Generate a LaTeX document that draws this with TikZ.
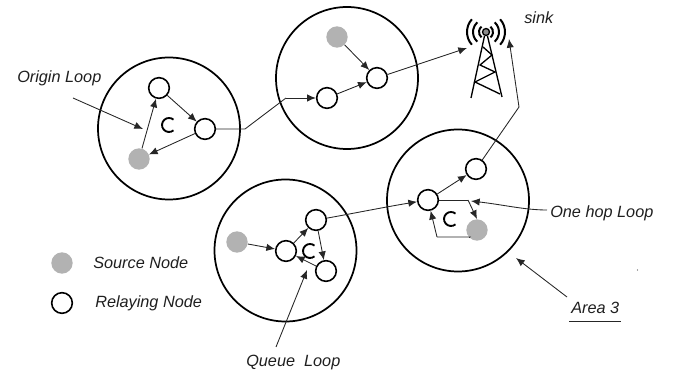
\documentclass[tikz,border=0pt]{standalone}
\usepackage{fontspec}
\setmainfont{Liberation Sans}
\usetikzlibrary{arrows.meta}
\tikzset{
 area/.style={circle,draw=black,line width=1.3pt,minimum size=106.5pt,inner sep=0pt},
 relay/.style={circle,draw=black,fill=white,line width=1.2pt,minimum size=15.5pt,inner sep=0pt},
 source/.style={circle,fill=black!30,minimum size=16pt,inner sep=0pt},
 link/.style={draw=black!85,line width=0.65pt,-{Latex[length=6.5pt,width=5.5pt]}},
 plain/.style={draw=black!85,line width=0.65pt},
 lbl/.style={font=\itshape\fontsize{12.2pt}{14pt}\selectfont,text=black!88,inner sep=0pt},
 loopc/.style={line width=1.4pt,draw=black},
 tw/.style={line width=1pt,draw=black},
 wave/.style={line width=1.5pt,draw=black}
}
\begin{document}
\begin{tikzpicture}[x=0.75pt,y=-0.75pt]
\useasboundingbox (0,0) rectangle (676,374);
% areas
\node[area] (A1) at (169,128.5) {};
\node[area] (A2) at (347,78) {};
\node[area] (A3) at (285.5,250.5) {};
\node[area] (A4) at (458,200.5) {};
% nodes
\node[relay] (a) at (159,88) {};
\node[relay] (b) at (205,129) {};
\node[source] (c) at (139,159) {};
\node[relay] (d) at (327,98) {};
\node[relay] (e) at (377,78) {};
\node[source] (f) at (337,37) {};
\node[source] (g) at (237,242) {};
\node[relay] (h) at (286,251) {};
\node[relay] (i) at (316,220) {};
\node[relay] (j) at (326,271) {};
\node[relay] (k) at (428,200) {};
\node[relay] (l) at (476,169) {};
\node[source] (m) at (477,230) {};
\node[source] (s1) at (62,263) {};
\node[relay] (s2) at (62,303) {};
% free coordinates
\coordinate (p1) at (245,129);
\coordinate (p2) at (286,98);
\coordinate (t1) at (467,48);
\coordinate (p3) at (519,107);
\coordinate (t2) at (509,39);
\coordinate (r1) at (468,200);
\coordinate (r2) at (477,219);
\coordinate (r3) at (470,237);
\coordinate (r4) at (437,237);
\coordinate (o1) at (73,98);
\coordinate (o2) at (143,129);
\coordinate (q1) at (276,347);
\coordinate (q2) at (307,270);
\coordinate (u1) at (547,210);
\coordinate (u2) at (471,201);
\coordinate (v1) at (567,297);
\coordinate (v2) at (516,258);
% links
\draw[link] (a) -- (b);
\draw[link] (b) -- (c);
\draw[link] (c) -- (a);
\draw[plain] (b) -- (p1) -- (p2);
\draw[link] (p2) -- (d);
\draw[link] (d) -- (e);
\draw[link] (f) -- (e);
\draw[link] (e) -- (t1);
\draw[link] (g) -- (h);
\draw[link] (h) -- (i);
\draw[link] (i) -- (j);
\draw[link] (j) -- (h);
\draw[link] (i) .. controls (345,215) and (385,207) .. (k);
\draw[link] (k) -- (l);
\draw[link] (l) -- (p3) -- (t2);
\draw[plain] (k) -- (r1);
\draw[link] (r1) -- (r2);
\draw[plain] (m) -- (r3) -- (r4);
\draw[link] (r4) -- (k);
\draw[link] (o1) -- (o2);
\draw[link] (q1) -- (q2);
\draw[link] (u1) .. controls (525,210) and (505,205) .. (u2);
\draw[link] (v1) -- (v2);
% loop marks
\draw[loopc] ([shift={(50:7)}]169,125) arc (50:310:7);
\draw[loopc] ([shift={(50:7)}]310,251) arc (50:310:7);
\draw[loopc] ([shift={(50:7)}]451,219) arc (50:310:7);
% tower
\coordinate (tc) at (486,32);
\draw[tw] (484.5,36) -- (471,98) (487.5,36) -- (502,97);
\draw[tw] (483,47) -- (492,55) -- (480,65) -- (495,72) -- (475,82) -- (500,94);
\draw[tw,fill=black!45] (tc) circle (3.5);
\foreach \r/\a in {7/50,13/48,19/42}{
  \draw[wave] ([shift={(180-\a:\r)}]tc) arc (180-\a:180+\a:\r);
  \draw[wave] ([shift={(-\a:\r)}]tc) arc (-\a:\a:\r);
}
% labels
\node[lbl,anchor=west] (L1) at (17,78) {Origin Loop};
\node[lbl,anchor=west] (L2) at (524,18) {sink};
\node[lbl,anchor=west] (L3) at (550,213) {One hop Loop};
\node[lbl,anchor=west] (L4) at (571,308) {Area 3};
\node[lbl,anchor=west] (L5) at (246,363) {Queue\ \ Loop};
\node[lbl,anchor=west] (L6) at (93,263) {Source Node};
\node[lbl,anchor=west] (L7) at (95,303.5) {Relaying Node};
\coordinate (ua) at (569,321);
\coordinate (ub) at (621,321);
\draw[plain] (ua) -- (ub);
\fill[black!70] (637.5,270) circle (0.6);
\end{tikzpicture}
\end{document}
